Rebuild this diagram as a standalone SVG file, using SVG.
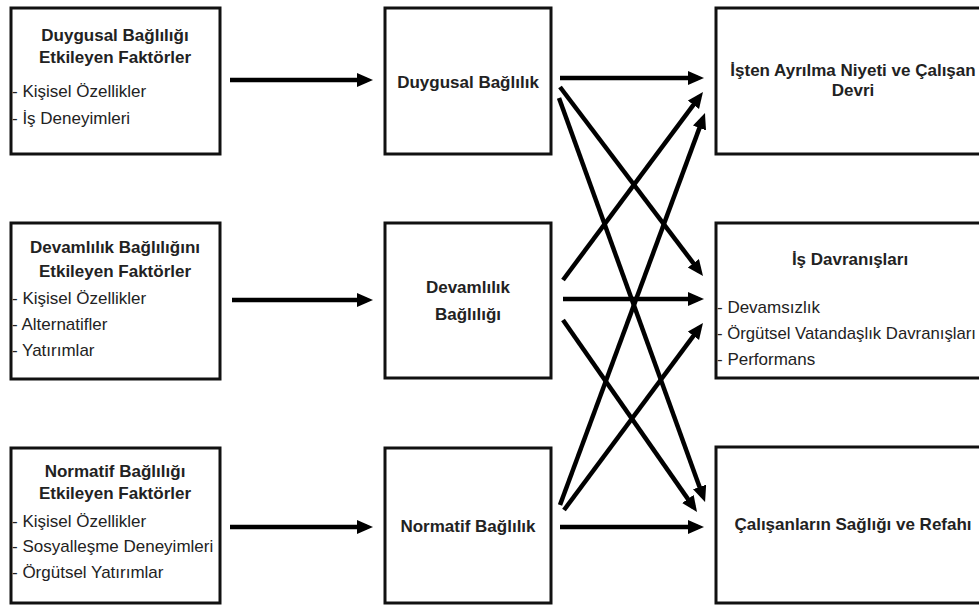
<svg xmlns="http://www.w3.org/2000/svg" width="979" height="605" viewBox="0 0 979 605">
<defs>
<style>
.box{fill:#fff;stroke:#111;stroke-width:3}
.t{font-family:"Liberation Sans",Arial,sans-serif;font-size:17px;font-weight:bold;fill:#222;text-anchor:middle}
.i{font-family:"Liberation Sans",Arial,sans-serif;font-size:17px;fill:#222}
.c{stroke:#000;stroke-width:4.5;fill:none;marker-end:url(#ah)}
</style>
<marker id="ah" markerUnits="userSpaceOnUse" markerWidth="18" markerHeight="16" refX="10" refY="7" orient="auto">
<path d="M0,0 L16,7 L0,14 z" fill="#000"/>
</marker>
</defs>
<rect width="979" height="605" fill="#fff"/>
<g id="n-duygusal-faktor">
<rect class="box" x="11" y="8" width="209" height="146"/>
<text class="t" x="115" y="41">Duygusal Bağlılığı</text>
<text class="t" x="115" y="63">Etkileyen Faktörler</text>
<text class="i" x="12" y="97">- Kişisel Özellikler</text>
<text class="i" x="12" y="124">- İş Deneyimleri</text>
</g>
<g id="n-devamlilik-faktor">
<rect class="box" x="11" y="223" width="209" height="156"/>
<text class="t" x="115" y="253">Devamlılık Bağlılığını</text>
<text class="t" x="115" y="277">Etkileyen Faktörler</text>
<text class="i" x="12" y="304">- Kişisel Özellikler</text>
<text class="i" x="12" y="330">- Alternatifler</text>
<text class="i" x="12" y="356">- Yatırımlar</text>
</g>
<g id="n-normatif-faktor">
<rect class="box" x="11" y="448" width="209" height="155"/>
<text class="t" x="115" y="477">Normatif Bağlılığı</text>
<text class="t" x="115" y="499">Etkileyen Faktörler</text>
<text class="i" x="12" y="527">- Kişisel Özellikler</text>
<text class="i" x="12" y="552">- Sosyalleşme Deneyimleri</text>
<text class="i" x="12" y="578">- Örgütsel Yatırımlar</text>
</g>
<g id="n-duygusal">
<rect class="box" x="385" y="8" width="166" height="146"/>
<text class="t" x="468" y="88">Duygusal Bağlılık</text>
</g>
<g id="n-devamlilik">
<rect class="box" x="385" y="223" width="166" height="155"/>
<text class="t" x="468" y="293">Devamlılık</text>
<text class="t" x="468" y="320">Bağlılığı</text>
</g>
<g id="n-normatif">
<rect class="box" x="385" y="448" width="166" height="155"/>
<text class="t" x="468" y="532">Normatif Bağlılık</text>
</g>
<g id="n-isten">
<rect class="box" x="716" y="8" width="290" height="146"/>
<text class="t" x="853" y="76">İşten Ayrılma Niyeti ve Çalışan</text>
<text class="t" x="853" y="96">Devri</text>
</g>
<g id="n-is-davranislari">
<rect class="box" x="716" y="223" width="290" height="155"/>
<text class="t" x="850" y="265">İş Davranışları</text>
<text class="i" x="717" y="313">- Devamsızlık</text>
<text class="i" x="717" y="339" textLength="259" lengthAdjust="spacingAndGlyphs">- Örgütsel Vatandaşlık Davranışları</text>
<text class="i" x="717" y="365">- Performans</text>
</g>
<g id="n-saglik">
<rect class="box" x="716" y="447" width="290" height="156"/>
<text class="t" x="853" y="530">Çalışanların Sağlığı ve Refahı</text>
</g>
<g id="connectors">
<line class="c" x1="230" y1="80" x2="367" y2="80"/>
<line class="c" x1="232" y1="300" x2="367" y2="300"/>
<line class="c" x1="230" y1="527" x2="367" y2="527"/>
<line class="c" x1="560" y1="78" x2="698" y2="78"/>
<line class="c" x1="560" y1="87" x2="699.4" y2="271.2"/>
<line class="c" x1="559" y1="98" x2="703" y2="496.4"/>
<line class="c" x1="563" y1="280" x2="699.4" y2="96.8"/>
<line class="c" x1="563" y1="299" x2="698" y2="299"/>
<line class="c" x1="563" y1="320" x2="693.6" y2="507.1"/>
<line class="c" x1="560" y1="505" x2="702.9" y2="118.6"/>
<line class="c" x1="564" y1="510" x2="699.4" y2="327.8"/>
<line class="c" x1="560" y1="527" x2="698" y2="527"/>
</g>
</svg>
